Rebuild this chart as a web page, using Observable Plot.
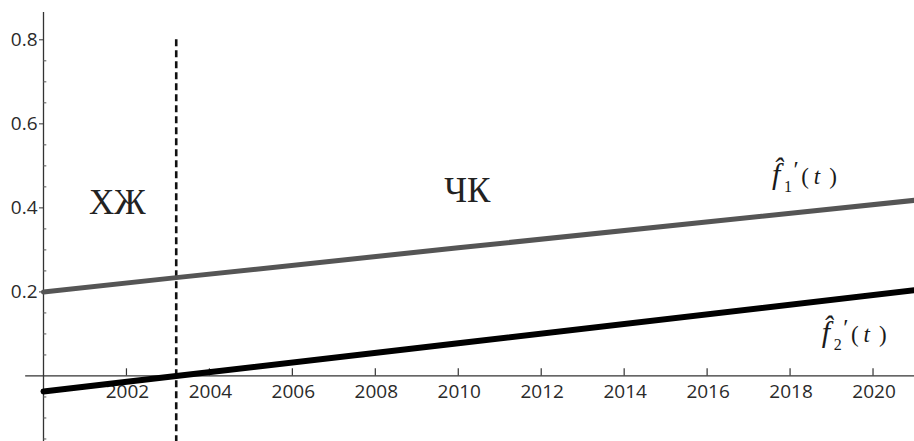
<!DOCTYPE html>
<html><head><meta charset="utf-8">
<script src="https://cdn.jsdelivr.net/npm/d3@7"></script>
<script src="https://cdn.jsdelivr.net/npm/@observablehq/plot@0.6"></script>
<style>html,body{margin:0;padding:0;background:#fff}svg{display:block}</style>
</head><body><div id="chart"></div>
<script>
// ---- data ----
const years = [2000, 2003.2, 2010, 2021];
const f1Values = [0.200, 0.234, 0.305, 0.418];
const f2Values = [-0.037, 0.000, 0.078, 0.204];
const xTicks = [2002, 2004, 2006, 2008, 2010, 2012, 2014, 2016, 2018, 2020];
const yTicks = [0.2, 0.4, 0.6, 0.8];
const yMinorTicks = [-0.15, -0.1, -0.05, 0.05, 0.1, 0.15, 0.25, 0.3, 0.35, 0.45, 0.5, 0.55, 0.65, 0.7, 0.75];
const breakYear = [2003.2];
const breakTop = 0.8;
const regionNames = ["ХЖ", "ЧК"];
const regionX = [2001.78, 2010.22];
const regionY = [0.4125, 0.4405];
const fnIndex = ["1", "2"];
const fnX = [2017.65, 2018.85];
const fnY = [0.456, 0.080];

// ---- tables built from the arrays ----
const f1Data = years.map((x, i) => ({x, y: f1Values[i]}));
const f2Data = years.map((x, i) => ({x, y: f2Values[i]}));
const regions = regionNames.map((t, i) => ({t, x: regionX[i], y: regionY[i]}));

const xDomain = [2000, 2021];
const yDomain = [-0.156, 0.865];

const plot = Plot.plot({
  width: 914, height: 441,
  marginLeft: 43, marginRight: 0, marginTop: 12, marginBottom: 0,
  style: {fontFamily: "'Open Sans', sans-serif", fontSize: "19px", color: "#333", background: "#fff", overflow: "visible"},
  x: {domain: xDomain, axis: null},
  y: {domain: yDomain, axis: null},
  marks: [
    // axes lines
    Plot.ruleY([0], {x1: () => 1999.57, x2: () => xDomain[1], stroke: "#333", strokeWidth: 1.3}),
    Plot.ruleX([2000], {y1: () => yDomain[0], y2: () => yDomain[1], stroke: "#333", strokeWidth: 1.3}),
    // y axis
    Plot.axisY(yTicks, {anchor: "left", label: null, tickSize: 4, tickPadding: 2, tickFormat: d => d.toFixed(1), fill: "#2a2a2a", stroke: "#333", fontSize: 19}),
    Plot.ruleY(yMinorTicks, {x1: () => 2000, x2: () => 2000.08, stroke: "#555", strokeWidth: 1}),
    // x axis ticks and labels
    Plot.ruleX(xTicks, {y1: () => 0, y2: () => 0.017, stroke: "#333", strokeWidth: 1.2}),
    Plot.text(xTicks, {x: d => d, y: () => 0, text: d => String(d), dx: 1, dy: 16, fill: "#2a2a2a", fontSize: 19, style: "letter-spacing:1px"}),
    // break line
    Plot.ruleX(breakYear, {y1: () => breakTop, y2: () => yDomain[0], stroke: "#111", strokeWidth: 2.6, strokeDasharray: "7,4"}),
    // series
    Plot.line(f1Data, {x: "x", y: "y", stroke: "#555", strokeWidth: 5}),
    Plot.line(f2Data, {x: "x", y: "y", stroke: "#000", strokeWidth: 6}),
    // region labels
    Plot.text(regions, {x: "x", y: "y", text: "t", fontFamily: "'Liberation Serif', 'Times New Roman', serif", fontSize: 35, fill: "#222"})
  ]
});

// function labels f̂ᵢ'(t), one text element each, placed through the plot's own scales
const sx = plot.scale("x"), sy = plot.scale("y");
const svg = d3.select(plot.tagName.toLowerCase() === "svg" ? plot : plot.querySelector("svg"));
const g = svg.append("g")
  .attr("font-family", "'Liberation Serif', 'Times New Roman', serif")
  .attr("fill", "#1a1a1a");
fnIndex.forEach((idx, i) => {
  const X = sx.apply(fnX[i]), Y = sy.apply(fnY[i]);
  const text = g.append("text").attr("transform", `translate(${X},${Y})`);
  const piece = (txt, dx, dy, size, italic) =>
    text.append("tspan").attr("x", dx).attr("y", dy).attr("font-size", size)
     .attr("font-style", italic ? "italic" : "normal").text(txt);
  piece("f\u0302", 1, 0, 30, true);
  piece(idx, 13, 8, 16, false);
  piece("\u2032", 21, -7, 24, false);
  piece("(", 30, 0, 23, false);
  piece("t", 42, 0, 23, true);
  piece(")", 58, 0, 23, false);
});

document.getElementById("chart").appendChild(plot);
</script>
</body></html>
